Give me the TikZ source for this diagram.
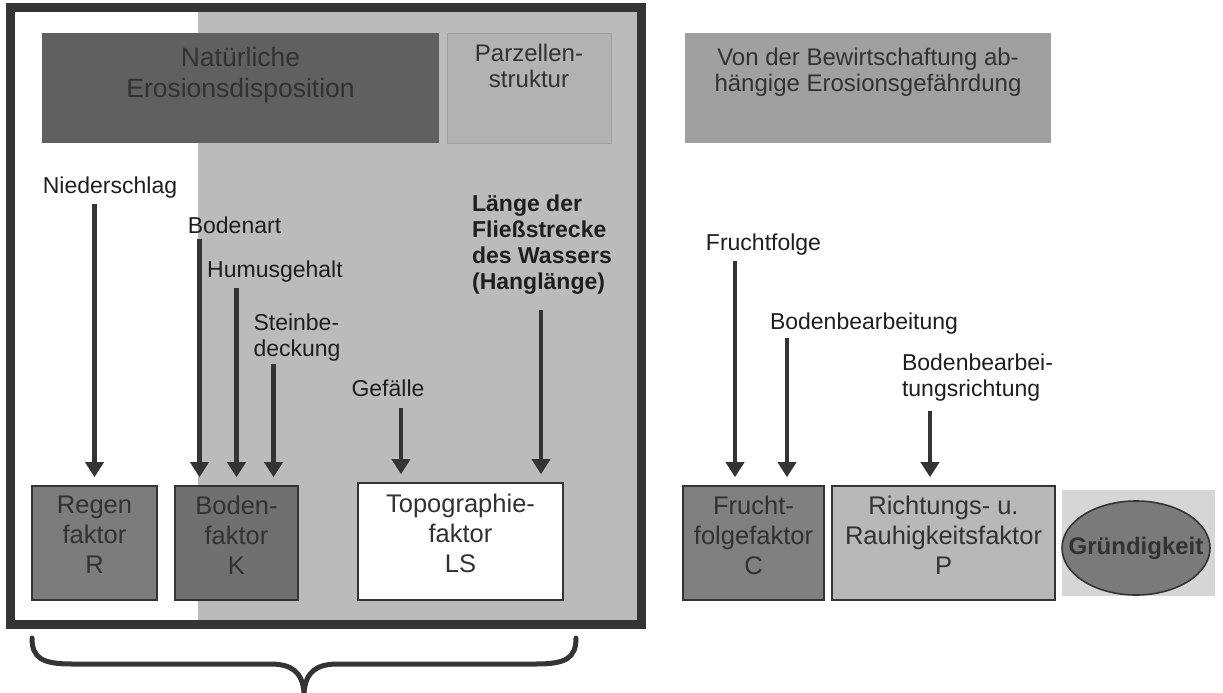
\documentclass[tikz,border=0pt]{standalone}
\usepackage{fontspec}
\setmainfont{Liberation Sans}
\usetikzlibrary{arrows.meta, positioning, shapes.geometric}

\definecolor{rahmen}{RGB}{52, 52, 52}
\definecolor{schrift}{RGB}{30, 30, 30}
\definecolor{kastentext}{RGB}{50, 50, 50}
\definecolor{hgrau}{RGB}{187, 187, 187}
\definecolor{naturgrau}{RGB}{96, 96, 96}
\definecolor{parzgrau}{RGB}{178, 178, 178}
\definecolor{bewirtgrau}{RGB}{160, 160, 160}
\definecolor{regengrau}{RGB}{124, 124, 124}
\definecolor{bodengrau}{RGB}{112, 112, 112}
\definecolor{fruchtgrau}{RGB}{128, 128, 128}
\definecolor{richtgrau}{RGB}{184, 184, 184}
\definecolor{gruendhell}{RGB}{214, 214, 214}
\definecolor{gruenddunkel}{RGB}{122, 122, 122}

\begin{document}
\begin{tikzpicture}[x=1pt, y=-1pt,
        kopf/.style={inner sep=0pt, minimum height=110pt, align=center, text=kastentext},
        kasten/.style={draw=rahmen, line width=1.6pt, inner sep=0pt, minimum height=114pt, align=center,
            text=kastentext, font=\fontsize{25.5}{30}\selectfont},
        einfluss/.style={inner sep=0pt, align=left, text=schrift, font=\fontsize{23}{26}\selectfont},
        pfeil/.style={draw=rahmen, line width=4.5pt, -{Triangle[length=15pt, width=18pt]},
            shorten <=5pt, shorten >=8pt},
        klammer/.style={draw=rahmen, line width=5pt, line cap=round}]
        \useasboundingbox (0,0) rectangle (1223,693);

        % Rahmen der natuerlichen Disposition
        \fill[hgrau] (198,8) rectangle (641,624);
        \draw[rahmen, line width=9pt] (10,8) rectangle (641,624);

        % Kopfzeile
        \node[kopf, fill=naturgrau, minimum width=397pt, font=\fontsize{26.5}{31}\selectfont] (natur) at (240.5,88) {
            Natürliche\\
            Erosionsdisposition\\
            \mbox{}
        };
        \node[kopf, fill=parzgrau, draw=bewirtgrau, line width=0.8pt, minimum width=164pt, font=\fontsize{24}{26}\selectfont] (parzelle) at (529,88) {
            Parzellen-\\
            struktur\\[18pt]
            \mbox{}
        };
        \node[kopf, fill=bewirtgrau, minimum width=366pt, font=\fontsize{24}{26}\selectfont] (bewirt) at (868,88) {
            Von der Bewirtschaftung ab-\\
            hängige Erosionsgefährdung\\[10pt]
            \mbox{}
        };

        % Faktoren
        \node[kasten, fill=regengrau, minimum width=125pt] (regen) at (94.5,543) {Regen\\faktor\\R\\[-14pt]\mbox{}};
        \node[kasten, fill=bodengrau, minimum width=123pt] (boden) at (236.5,543) {Boden-\\faktor\\K\\[-14pt]\mbox{}};
        \node[kasten, fill=white, minimum width=205pt, minimum height=117pt] (topo) at (460.5,541.5) {Topographie-\\faktor\\LS\\[-14pt]\mbox{}};
        \node[kasten, fill=fruchtgrau, minimum width=141pt] (frucht) at (753.5,543) {Frucht-\\folgefaktor\\C\\[-14pt]\mbox{}};
        \node[kasten, fill=richtgrau, minimum width=223pt] (richtung) at (943.5,543) {Richtungs- u.\\Rauhigkeitsfaktor\\P\\[-14pt]\mbox{}};

        \node[fill=gruendhell, inner sep=0pt, minimum width=153pt, minimum height=106pt] (gruendfeld) at (1138.5,543) {};
        \node[ellipse, draw=rahmen, line width=1.6pt, fill=gruenddunkel, inner sep=0pt,
            minimum width=148pt, minimum height=94pt, text=kastentext,
            font=\bfseries\fontsize{24}{28}\selectfont] (gruend) at (1136,548) {\makebox[0pt]{Gründigkeit}};

        % Einflussgroessen
        \node[einfluss] (nieder) at (110,188) {Niederschlag};
        \node[einfluss] (bodenart) at (234.5,225) {Bodenart};
        \node[einfluss] (humus) at (275,272) {Humusgehalt};
        \node[einfluss] (stein) at (297,338) {Steinbe-\\deckung};
        \node[einfluss] (gefaelle) at (388,388) {Gefälle};
        \node[einfluss, font=\bfseries\fontsize{23}{26}\selectfont] (laenge) at (542,245) {
            Länge der\\
            Fließstrecke\\
            des Wassers\\
            (Hanglänge)
        };
        \node[einfluss] (fruchtf) at (763.5,245) {Fruchtfolge};
        \node[einfluss] (bearb) at (864,324) {Bodenbearbeitung};
        \node[einfluss] (richtg) at (977.5,378) {Bodenbearbei-\\tungsrichtung};

        % Eintrittspunkte der Pfeile
        \coordinate (boden-a) at ([xshift=-37pt]boden.north);
        \coordinate (boden-c) at ([xshift=37pt]boden.north);
        \coordinate (topo-a) at ([xshift=-59.5pt]topo.north);
        \coordinate (topo-b) at ([xshift=80.5pt]topo.north);
        \coordinate (frucht-a) at ([xshift=-18.5pt]frucht.north);
        \coordinate (frucht-b) at ([xshift=33.5pt]frucht.north);
        \coordinate (richtung-a) at ([xshift=-13.5pt]richtung.north);

        % Pfeile
        \draw[pfeil] (nieder.south -| regen.north) -- (regen.north);
        \draw[pfeil] (bodenart.south -| boden-a) -- (boden-a);
        \draw[pfeil] (humus.south -| boden.north) -- (boden.north);
        \draw[pfeil, shorten <=2pt] (stein.south -| boden-c) -- (boden-c);
        \draw[pfeil, shorten <=11pt] (gefaelle.south -| topo-a) -- (topo-a);
        \draw[pfeil, shorten <=15pt] (laenge.south -| topo-b) -- (topo-b);
        \draw[pfeil] (fruchtf.south -| frucht-a) -- (frucht-a);
        \draw[pfeil, shorten <=3pt] (bearb.south -| frucht-b) -- (frucht-b);
        \draw[pfeil, shorten <=9pt] (richtg.south -| richtung-a) -- (richtung-a);

        % Klammer
        \draw[klammer] (32,638) .. controls (32,658) and (42,664) .. (72,664) -- (270,664)
            .. controls (292,664) and (302,672) .. (304,692);
        \draw[klammer] (576,638) .. controls (576,658) and (566,664) .. (536,664) -- (338,664)
            .. controls (316,664) and (306,672) .. (304,692);
    \end{tikzpicture}
\end{document}
